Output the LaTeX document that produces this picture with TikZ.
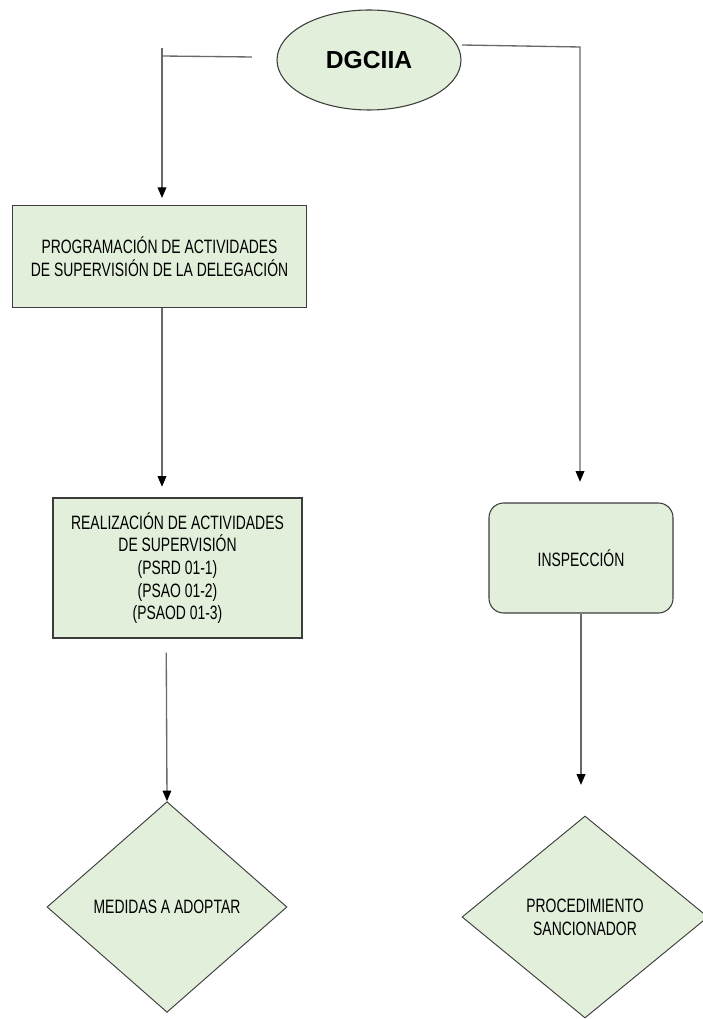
\documentclass[tikz,border=0pt]{standalone}
\usepackage{fontspec}
\setmainfont{Liberation Sans}[FakeStretch=0.72]
\newfontfamily\titlefont{Liberation Sans}
\usetikzlibrary{shapes.geometric,arrows.meta}
\definecolor{boxfill}{RGB}{226,239,218}
\definecolor{boxline}{RGB}{60,60,60}
\definecolor{linegray}{RGB}{105,105,105}

\tikzset{
  procbox/.style={rectangle,draw=boxline,fill=boxfill,line width=0.8pt,align=center,inner sep=0pt,
    font=\fontsize{14.5}{17}\selectfont},
  roundbox/.style={procbox,rounded corners=11pt},
  decision/.style={diamond,draw=boxline,fill=boxfill,line width=0.7pt,align=center,inner sep=0pt,
    font=\fontsize{14.5}{17}\selectfont},
  startnode/.style={ellipse,draw=boxline,fill=boxfill,line width=0.8pt,inner sep=0pt,
    minimum width=138pt,minimum height=75pt,font=\titlefont\bfseries\fontsize{18.5}{20}\selectfont},
  plainline/.style={draw=linegray,line width=1pt},
  conn/.style={plainline,-{Triangle[length=8pt,width=6.5pt,color=black]}}
}

\begin{document}
\begin{tikzpicture}[x=0.75pt,y=0.75pt,yscale=-1]
\useasboundingbox (0,0) rectangle (702,1019);

%Ellipse
\node[startnode] (dgciia) at (369,60) {DGCIIA};
%Shape: Rectangle
\node[procbox,minimum width=221pt,minimum height=77pt] (prog) at (159.5,256.5)
  {PROGRAMACIÓN DE ACTIVIDADES\\DE SUPERVISIÓN DE LA DELEGACIÓN};
%Shape: Rectangle
\node[procbox,minimum width=186.75pt,minimum height=105pt] (real) at (177.5,568)
  {REALIZACIÓN DE ACTIVIDADES\\DE SUPERVISIÓN\\(PSRD 01-1)\\(PSAO 01-2)\\(PSAOD 01-3)};
%Rounded Rect
\node[roundbox,minimum width=138pt,minimum height=82.5pt] (insp) at (581,558) {INSPECCIÓN};
%Diamond
\node[decision,minimum width=180pt,minimum height=158pt] (medidas) at (167,907) {MEDIDAS A ADOPTAR};
%Diamond
\node[decision,minimum width=184.5pt,minimum height=151.5pt] (sancion) at (585,917)
  {PROCEDIMIENTO\\SANCIONADOR};

%Straight Lines
\coordinate (lend) at (252,57);
\coordinate (lcorner) at (162,56);
\coordinate (ltop) at (162,48);
\draw[plainline] (lend) -- (lcorner);
\draw[conn,shorten >=5pt] (ltop) -- (ltop |- prog.north);
%Straight Lines
\coordinate (rstart) at (462,45);
\coordinate (rcorner) at (580,47);
\draw[conn,shorten >=15.5pt] (rstart) -- (rcorner) -- (rcorner |- insp.north);
%Straight Lines
\draw[conn,shorten >=8pt] (prog.south -| ltop) -- (real.north -| ltop);
\draw[conn,shorten <=10.5pt] ([xshift=-8.5pt]real.south) -- (medidas.north);
\draw[conn,shorten >=23pt] (insp.south) -- (insp.south |- sancion.north);

\end{tikzpicture}
\end{document}
